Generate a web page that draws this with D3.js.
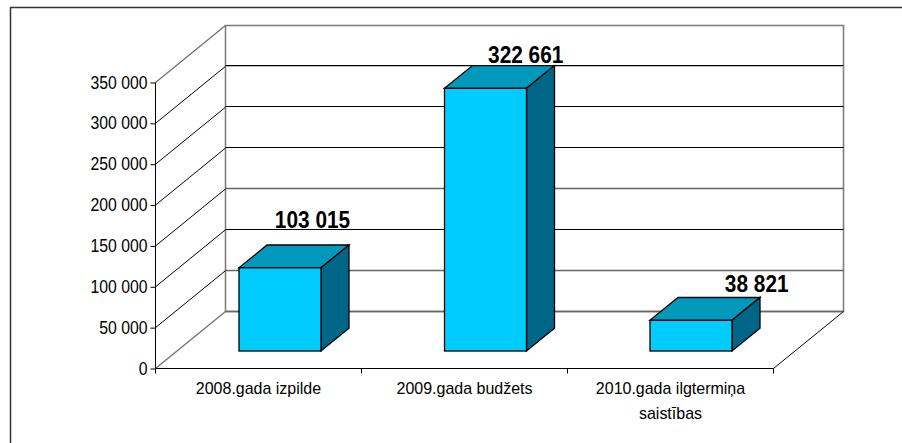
<!DOCTYPE html>
<html><head><meta charset="utf-8">
<script src="https://cdnjs.cloudflare.com/ajax/libs/d3/7.9.0/d3.min.js"></script>
<style>html,body{margin:0;padding:0;background:#fff}svg{display:block}text{font-family:"Liberation Sans",Arial,sans-serif;fill:#000}</style>
</head><body><svg id="c" width="902" height="443"></svg>
<script>
const categories=[["2008.gada izpilde"],["2009.gada budžets"],["2010.gada ilgtermiņa","saistības"]];
const values=[103015,322661,38821];
const valueLabels=["103 015","322 661","38 821"];
const tickValues=[0,50000,100000,150000,200000,250000,300000,350000];
const tickLabels=["0","50 000","100 000","150 000","200 000","250 000","300 000","350 000"];

const svg=d3.select("#c");
const W=902,H=443;
const x=d3.scaleBand().domain(d3.range(values.length)).range([155.5,773.5]);
const y=d3.scaleLinear().domain([0,350000]).range([368.5,82.5]);
const barX=d3.scaleLinear().domain([0,values.length-1]).range([239,650]);
const DX=70,DY=-57;
const barW=82,barFront=.307,barDepth=.4;
const labelCx=[312.5,525.7,756.7],labelBase=[228.3,63.2,292];

// horizontally squeeze tall text to match the condensed source rendering
function squeeze(sel,f){sel.each(function(){this.setAttribute("lengthAdjust","spacingAndGlyphs");this.setAttribute("textLength",this.getComputedTextLength()*f);});}

svg.append("path").attr("d",`M10.5,${H+2}V7.5H${W+2}`).attr("fill","none").attr("stroke","#333").attr("stroke-width",1.5);

const x0=x.range()[0],x1=x.range()[1];
const grey="#808080";
svg.append("rect").attr("x",x0+DX).attr("y",y(350000)+DY).attr("width",x1-x0).attr("height",y(0)-y(350000))
  .attr("fill","none").attr("stroke",grey).attr("stroke-width",1.6);
const g=svg.append("g");
const last=tickValues.length-1;
tickValues.forEach((t,i)=>{
  const yy=Math.floor(y(t)+DY-.5)+.5;
  if(i===0||i===1||i===3){
    g.append("line").attr("x1",x0+DX).attr("x2",x1+DX).attr("y1",yy).attr("y2",yy).attr("stroke","#666").attr("stroke-width",1.6);
  } else if(i<last){
    if(i===6) g.append("line").attr("x1",x0+DX).attr("x2",x1+DX).attr("y1",yy+.8).attr("y2",yy+.8).attr("stroke","#aaa").attr("stroke-width",1);
    g.append("line").attr("x1",x0+DX).attr("x2",x1+DX).attr("y1",yy).attr("y2",yy).attr("stroke","#000").attr("stroke-width",1);
  }
  const edge=(i===0||i===last);
  g.append("line").attr("x1",x0).attr("y1",y(t)).attr("x2",x0+DX).attr("y2",y(t)+DY)
    .attr("stroke",edge?"#707070":"#000").attr("stroke-width",edge?1.3:1);
});
svg.append("line").attr("x1",x1).attr("y1",y(0)).attr("x2",x1+DX).attr("y2",y(0)+DY).attr("stroke","#000");

const yAxis=d3.axisLeft(y).tickValues(tickValues).tickFormat((d,i)=>tickLabels[i]).tickSize(5).tickPadding(3);
const ya=svg.append("g").attr("transform",`translate(${x0},0)`).call(yAxis);
ya.select(".domain").attr("d",`M0,${y(350000)}V${y(0)}`).attr("stroke","#000");
ya.selectAll("line").attr("stroke","#000");
ya.selectAll("text").attr("font-size",17.5).attr("font-family",null);
squeeze(ya.selectAll("text"),.9);
const xa=svg.append("g");
xa.append("line").attr("x1",x0).attr("x2",x1).attr("y1",y(0)).attr("y2",y(0)).attr("stroke","#000");
[...d3.range(values.length).map(i=>x(i)),x1].forEach(v=>{
  xa.append("line").attr("x1",v).attr("x2",v).attr("y1",y(0)).attr("y2",y(0)+5).attr("stroke","#000");
});
categories.forEach((lines,i)=>{
  lines.forEach((l,j)=>{
    const t=svg.append("text").attr("text-anchor","middle").attr("font-size",17)
      .attr("x",x(i)+x.bandwidth()/2).attr("y",394+j*24.5).text(l);
    squeeze(t,.94);
  });
});

values.forEach((v,i)=>{
  const fx=barX(i), w=barW;
  const base=y(0)+DY*barFront, top=base-(y(0)-y(v))+1;
  const bdx=DX*barDepth,bdy=DY*barDepth;
  const b=svg.append("g").attr("stroke","#000").attr("stroke-width",1.3).attr("stroke-linejoin","miter");
  b.append("path").attr("fill","#0099bb").attr("d",d3.line()([[fx,top],[fx+bdx,top+bdy],[fx+w+bdx,top+bdy],[fx+w,top]])+"Z");
  b.append("path").attr("fill","#006688").attr("d",d3.line()([[fx+w,top],[fx+w+bdx,top+bdy],[fx+w+bdx,base+bdy],[fx+w,base]])+"Z");
  b.append("rect").attr("fill","#00ccff").attr("x",fx).attr("y",top).attr("width",w).attr("height",base-top);
  const t=svg.append("text").attr("x",labelCx[i]).attr("y",labelBase[i]).attr("text-anchor","middle")
    .attr("font-size",24.5).attr("font-weight","bold").text(valueLabels[i]);
  squeeze(t,.85);
});
</script></body></html>
